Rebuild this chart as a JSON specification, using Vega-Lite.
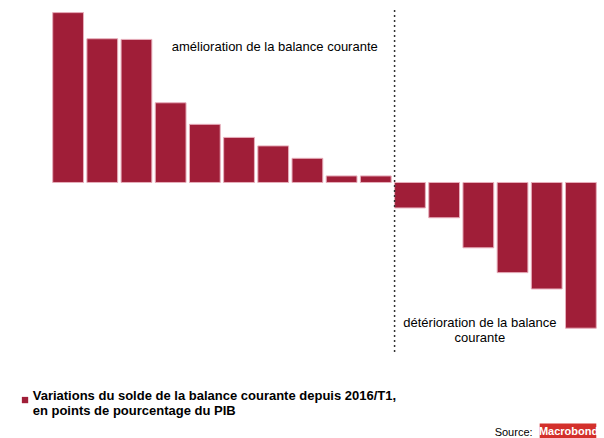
{
  "$schema": "https://vega.github.io/schema/vega-lite/v6.json",
  "width": 547,
  "height": 343,
  "autosize": {"type": "none"},
  "padding": {"left": 51, "top": 10, "right": 6, "bottom": 85},
  "background": "white",
  "config": {
    "view": {"stroke": null}
  },
  "datasets": {
    "bars": [
      {"country": "PER", "value": 2.60},
      {"country": "ZAF", "value": 2.20},
      {"country": "COL", "value": 2.19},
      {"country": "BRA", "value": 1.22},
      {"country": "POL", "value": 0.89},
      {"country": "THA", "value": 0.69},
      {"country": "IDN", "value": 0.56},
      {"country": "IND", "value": 0.37},
      {"country": "MEX", "value": 0.10},
      {"country": "CHL", "value": 0.10},
      {"country": "MAL", "value": -0.39},
      {"country": "TUR", "value": -0.54},
      {"country": "CHN", "value": -1.00},
      {"country": "KOR", "value": -1.38},
      {"country": "RUS", "value": -1.63},
      {"country": "PHL", "value": -2.23}
    ],
    "divider": [{"country": "MAL"}],
    "notes": [
      {"country": "IDN", "value": 2.06, "label": "amélioration de la balance courante"},
      {"country": "CHN", "value": -2.17, "label": "détérioration de la balance|courante"}
    ],
    "legendrow": [{"country": "PER", "value": -3.33, "label": "Variations du solde de la balance courante depuis 2016/T1,|en points de pourcentage du PIB"}],
    "source": [{"country": "RUS", "value": -3.83, "label": "Source:"}],
    "logo": [{"country": "PHL", "value": -3.82, "label": "Macrobond", "country2": "PHL", "top": -3.69, "bottom": -3.93}]
  },
  "layer": [
    {
      "data": {"name": "bars"},
      "mark": {"type": "bar", "stroke": "#E7AEBB", "strokeWidth": 1, "color": "#A01E38"},
      "encoding": {
        "x": {
          "field": "country",
          "type": "nominal",
          "sort": null,
          "title": null,
          "scale": {"domain": ["PER", "ZAF", "COL", "BRA", "POL", "THA", "IDN", "IND", "MEX", "CHL", "MAL", "TUR", "CHN", "KOR", "RUS", "PHL"], "paddingInner": 0.1, "paddingOuter": 0.05},
          "axis": {
            "title": null,
            "labelAngle": 0,
            "labelFontSize": 13,
            "labelFontWeight": "bold",
            "labelColor": "black",
            "domainColor": "black",
            "domainWidth": 1.5,
            "tickColor": "black",
            "tickBand": "extent"
          }
        },
        "y": {
          "field": "value",
          "type": "quantitative",
          "title": null,
          "scale": {"domain": [-2.61, 2.64], "nice": false, "zero": false},
          "axis": {
            "title": null,
            "values": [-2.5, -2, -1.5, -1, -0.5, 0, 0.5, 1, 1.5, 2, 2.5],
            "format": ".1f",
            "labelOverlap": false,
            "labelFontSize": 13,
            "labelFontWeight": "bold",
            "labelColor": "black",
            "domainColor": "black",
            "domainWidth": 1.5,
            "tickColor": "black",
            "tickSize": 6,
            "gridOpacity": 0
          }
        }
      }
    },
    {
      "data": {"name": "divider"},
      "mark": {"type": "rule", "strokeDash": [2, 3], "strokeWidth": 1.5, "color": "#333333"},
      "encoding": {
        "x": {"field": "country", "type": "nominal", "bandPosition": 0, "axis": null}
      }
    },
    {
      "data": {"name": "notes"},
      "mark": {"type": "text", "fontSize": 13, "font": "Liberation Sans", "fontWeight": "normal", "color": "#000000", "align": "center", "baseline": "top", "lineBreak": "|", "lineHeight": 15, "dy": -7},
      "encoding": {
        "x": {"field": "country", "type": "nominal", "bandPosition": 0.55, "axis": null},
        "y": {"field": "value", "type": "quantitative", "axis": null},
        "text": {"field": "label"}
      }
    },
    {
      "data": {"name": "legendrow"},
      "mark": {"type": "text", "fontSize": 13, "font": "Liberation Sans", "fontWeight": "bold", "color": "#000000", "align": "left", "baseline": "top", "lineBreak": "|", "lineHeight": 15, "dx": -20, "dy": -10},
      "encoding": {
        "x": {"field": "country", "type": "nominal", "bandPosition": 0, "axis": null},
        "y": {"field": "value", "type": "quantitative", "axis": null},
        "text": {"field": "label"}
      }
    },
    {
      "data": {"name": "legendrow"},
      "mark": {"type": "square", "size": 40, "opacity": 1, "color": "#A01E38"},
      "encoding": {
        "x": {"field": "country", "type": "nominal", "bandPosition": -0.9, "axis": null},
        "y": {"field": "value", "type": "quantitative", "axis": null}
      }
    },
    {
      "data": {"name": "source"},
      "mark": {"type": "text", "fontSize": 11, "font": "Liberation Sans", "fontWeight": "normal", "color": "#000000", "align": "right", "baseline": "middle"},
      "encoding": {
        "x": {"field": "country", "type": "nominal", "bandPosition": 0.04, "axis": null},
        "y": {"field": "value", "type": "quantitative", "axis": null},
        "text": {"field": "label"}
      }
    },
    {
      "data": {"name": "logo"},
      "mark": {"type": "rect", "color": "#D3302B"},
      "encoding": {
        "x": {"field": "country", "type": "nominal", "bandPosition": -0.84, "axis": null},
        "x2": {"field": "country2", "bandPosition": 1},
        "y": {"field": "top", "type": "quantitative", "axis": null},
        "y2": {"field": "bottom"}
      }
    },
    {
      "data": {"name": "logo"},
      "mark": {"type": "text", "fontSize": 11, "fontWeight": "bold", "font": "Liberation Sans", "color": "#FFFFFF", "align": "center", "baseline": "middle", "dx": 3},
      "encoding": {
        "x": {"field": "country", "type": "nominal", "bandPosition": 0, "axis": null},
        "y": {"field": "value", "type": "quantitative", "axis": null},
        "text": {"field": "label"}
      }
    }
  ]
}
